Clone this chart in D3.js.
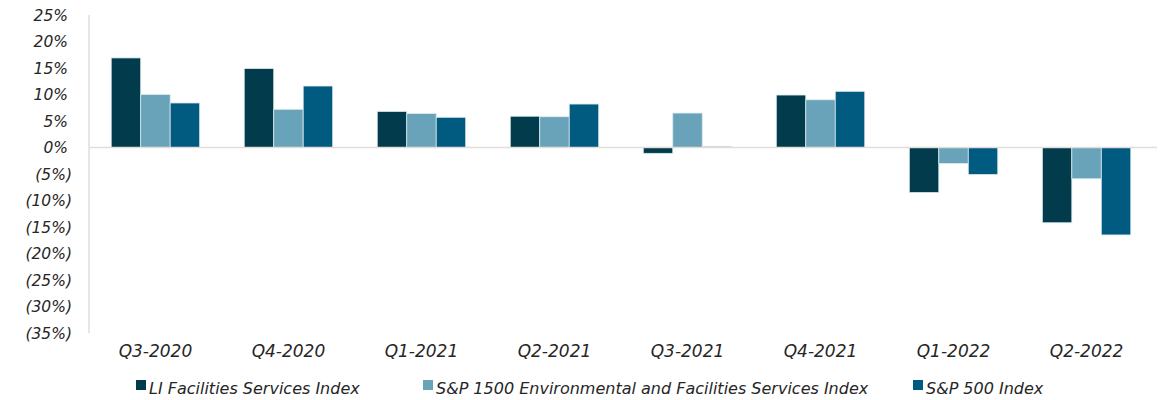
<!DOCTYPE html>
<html>
  <head>
    <meta charset="UTF-8" />
    <title>Quarterly Returns</title>
    <script src="https://d3js.org/d3.v7.min.js"></script>
    <style>
      * { margin: 0; padding: 0; box-sizing: border-box; }
      body { background: #ffffff; }
      text {
        font-family: "DejaVu Sans", "Open Sans", sans-serif;
        font-style: italic;
        fill: #262626;
      }
    </style>
  </head>
  <body>
    <svg id="chart" width="1161" height="400"></svg>
  </body>
  <script>
    const quarters = ["Q3-2020", "Q4-2020", "Q1-2021", "Q2-2021", "Q3-2021", "Q4-2021", "Q1-2022", "Q2-2022"];
    const seriesNames = [
      "LI Facilities Services Index",
      "S&P 1500 Environmental and Facilities Services Index",
      "S&P 500 Index"
    ];
    const liValues = [16.9, 14.9, 6.8, 5.9, -1.1, 9.9, -8.5, -14.2];
    const sp1500Values = [10.0, 7.2, 6.4, 5.8, 6.5, 9.0, -3.0, -5.9];
    const sp500Values = [8.4, 11.6, 5.7, 8.2, 0.2, 10.6, -5.1, -16.5];
    const yTicks = [25, 20, 15, 10, 5, 0, -5, -10, -15, -20, -25, -30, -35];
    const colors = ["#013b4c", "#68a3b9", "#015a80"];

    const allSeries = [liValues, sp1500Values, sp500Values];

    const svg = d3.select("#chart");
    const plotLeft = 89, plotRight = 1153, plotTop = 15, plotBottom = 333;

    const x = d3.scaleBand().domain(quarters).range([plotLeft, plotRight]).paddingInner(0.335).paddingOuter(0.167);
    const xs = d3.scaleBand().domain(d3.range(3)).range([0, x.bandwidth()]);
    const y = d3.scaleLinear().domain([-35, 25]).range([plotBottom, plotTop]);

    // y axis line
    svg.append("line")
      .attr("x1", plotLeft).attr("x2", plotLeft)
      .attr("y1", plotTop).attr("y2", plotBottom)
      .attr("stroke", "#e2ddd8").attr("stroke-width", 1.5);

    // tick labels, negatives in parentheses (accounting style)
    const fmt = (v) => v < 0 ? `(${Math.abs(v)}%)` : `${v}%`;
    svg.selectAll(".ytick")
      .data(yTicks)
      .enter()
      .append("text")
      .attr("class", "ytick")
      .attr("x", (d) => d < 0 ? 72 : 68)
      .attr("y", (d) => y(d))
      .attr("dy", "0.36em")
      .attr("text-anchor", "end")
      .style("font-size", "15.5px")
      .text(fmt);

    // bars
    allSeries.forEach((vals, i) => {
      svg.selectAll(`.bar-${i}`)
        .data(vals)
        .enter()
        .append("rect")
        .attr("class", `bar-${i}`)
        .attr("x", (d, j) => x(quarters[j]) + xs(i))
        .attr("width", xs.bandwidth())
        .attr("y", (d) => y(Math.max(0, d)))
        .attr("height", (d) => Math.abs(y(d) - y(0)))
        .attr("fill", colors[i])
        .attr("stroke", "#dbe8ee")
        .attr("stroke-width", 0.8);
    });

    // zero line
    svg.append("line")
      .attr("x1", plotLeft).attr("x2", plotRight + 4)
      .attr("y1", y(0)).attr("y2", y(0))
      .attr("stroke", "#e2ddd8").attr("stroke-width", 1.5);

    // category labels
    svg.selectAll(".xlabel")
      .data(quarters)
      .enter()
      .append("text")
      .attr("class", "xlabel")
      .attr("x", (d) => x(d) + x.bandwidth() / 2)
      .attr("y", 357)
      .attr("text-anchor", "middle")
      .style("font-size", "17px")
      .text((d) => d);

    // legend
    const legendX = [136, 423, 913];
    const legend = svg.selectAll(".legend")
      .data(seriesNames)
      .enter()
      .append("g")
      .attr("class", "legend")
      .attr("transform", (d, i) => `translate(${legendX[i]},388)`);
    legend.append("rect")
      .attr("x", 0).attr("y", -8)
      .attr("width", 10).attr("height", 10)
      .attr("fill", (d, i) => colors[i]);
    legend.append("text")
      .attr("x", 13).attr("y", 0)
      .attr("dy", "0.35em")
      .style("font-size", "16px")
      .text((d) => d);
  </script>
</html>
